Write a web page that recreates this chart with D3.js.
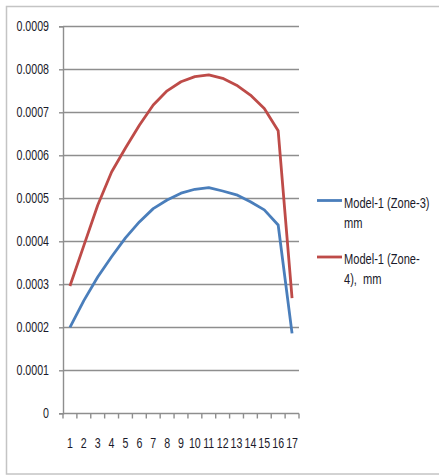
<!DOCTYPE html>
<html>
<head>
<meta charset="utf-8">
<script src="https://cdn.jsdelivr.net/npm/d3@7"></script>
<style>
  html, body { margin: 0; padding: 0; background: #fff; }
  svg { display: block; }
  text { font-family: "Liberation Sans", Arial, sans-serif; fill: #1a1a2a; }
</style>
</head>
<body>
<svg id="chart" width="439" height="475"></svg>
<script>
// Categories (positions along the section) and displacement series, mm
const categories = d3.range(1, 18).map(String);
const zone3 = [0.000200, 0.000262, 0.000317, 0.000364, 0.000408, 0.000445, 0.000476, 0.000496,
               0.000512, 0.000521, 0.000525, 0.000517, 0.000508, 0.000492, 0.000473, 0.000438, 0.000186];
const zone4 = [0.000296, 0.000390, 0.000484, 0.000561, 0.000617, 0.000670, 0.000717, 0.000750,
               0.000771, 0.000783, 0.000787, 0.000779, 0.000763, 0.000740, 0.000709, 0.000657, 0.000268];
const yTicks = [0, 0.0001, 0.0002, 0.0003, 0.0004, 0.0005, 0.0006, 0.0007, 0.0008, 0.0009];
const seriesNames = [["Model-1 (Zone-3)", "mm"], ["Model-1 (Zone-", "4),  mm"]];
const seriesColors = ["#4A7EBB", "#BE4B48"];

// Narrow lettering: squeeze text horizontally around its own x position
function squeeze(sel, s) {
  sel.each(function () {
    const t = d3.select(this);
    const x0 = +(t.attr("x") || 0);
    t.attr("x", x0 / s).attr("transform", `scale(${s},1)`);
  });
}

const svg = d3.select("#chart");

// Outer chart frame
svg.append("rect")
  .attr("x", 6.5).attr("y", 6.5).attr("width", 440).attr("height", 467.5)
  .attr("fill", "#fff").attr("stroke", "#c4c4c4").attr("stroke-width", 1.5);

const plot = { left: 63, right: 299, top: 26.3, bottom: 413.3 };

const x = d3.scaleBand().domain(categories).range([plot.left, plot.right]);
const y = d3.scaleLinear().domain([0, 0.0009]).range([plot.bottom, plot.top]);

const gridColor = "#8e8e8e";

// Horizontal gridlines
svg.append("g")
  .selectAll("line")
  .data(yTicks.filter(d => d > 0))
  .join("line")
  .attr("x1", plot.left).attr("x2", plot.right)
  .attr("y1", d => Math.round(y(d)) + 0.5).attr("y2", d => Math.round(y(d)) + 0.5)
  .attr("stroke", gridColor).attr("stroke-width", 1.4);

// Y axis
const yAxis = svg.append("g")
  .attr("transform", `translate(${plot.left},0)`)
  .call(d3.axisLeft(y).tickValues(yTicks).tickSize(4).tickPadding(10)
    .tickFormat(d => d === 0 ? "0" : d3.format(".4f")(d)));
yAxis.select(".domain").attr("stroke", gridColor).attr("stroke-width", 1.4);
yAxis.selectAll(".tick line").attr("stroke", gridColor).attr("stroke-width", 1.4);
yAxis.selectAll(".tick text")
  .attr("font-size", 14).attr("fill", "#1a1a2a")
  .attr("font-family", "'Liberation Sans', Arial, sans-serif");
squeeze(yAxis.selectAll(".tick text"), 0.76);

// X axis with ticks between categories
const xAxisG = svg.append("g").attr("transform", `translate(0,${Math.round(plot.bottom) + 0.5})`);
xAxisG.append("line")
  .attr("x1", plot.left).attr("x2", plot.right)
  .attr("stroke", gridColor).attr("stroke-width", 1.4);
xAxisG.selectAll("line.tk")
  .data(d3.range(categories.length + 1))
  .join("line")
  .attr("class", "tk")
  .attr("x1", i => plot.left + i * x.step()).attr("x2", i => plot.left + i * x.step())
  .attr("y1", 0).attr("y2", 5)
  .attr("stroke", gridColor).attr("stroke-width", 1.4);
const xLabels = xAxisG.selectAll("text")
  .data(categories)
  .join("text")
  .attr("x", d => x(d) + x.bandwidth() / 2)
  .attr("y", 35)
  .attr("text-anchor", "middle")
  .attr("font-size", 14)
  .text(d => d);
squeeze(xLabels, 0.76);

// Series lines
const line = d3.line()
  .x((d, i) => x(categories[i]) + x.bandwidth() / 2)
  .y(d => y(d));

[zone3, zone4].forEach((s, k) => {
  svg.append("path")
    .datum(s)
    .attr("d", line)
    .attr("fill", "none")
    .attr("stroke", seriesColors[k])
    .attr("stroke-width", 2.8)
    .attr("stroke-linejoin", "round");
});

// Legend
const legend = svg.append("g");
const legendY = [200.5, 257];
seriesNames.forEach((lines, k) => {
  legend.append("line")
    .attr("x1", 317).attr("x2", 342)
    .attr("y1", legendY[k]).attr("y2", legendY[k])
    .attr("stroke", seriesColors[k]).attr("stroke-width", 2.8);
  lines.forEach((t, j) => {
    const tx = legend.append("text")
      .attr("x", 344)
      .attr("y", legendY[k] + 7.5 + j * 20)
      .attr("font-size", 14.5)
      .attr("xml:space", "preserve")
      .style("white-space", "pre")
      .text(t);
    squeeze(tx, 0.765);
  });
});
</script>
</body>
</html>
